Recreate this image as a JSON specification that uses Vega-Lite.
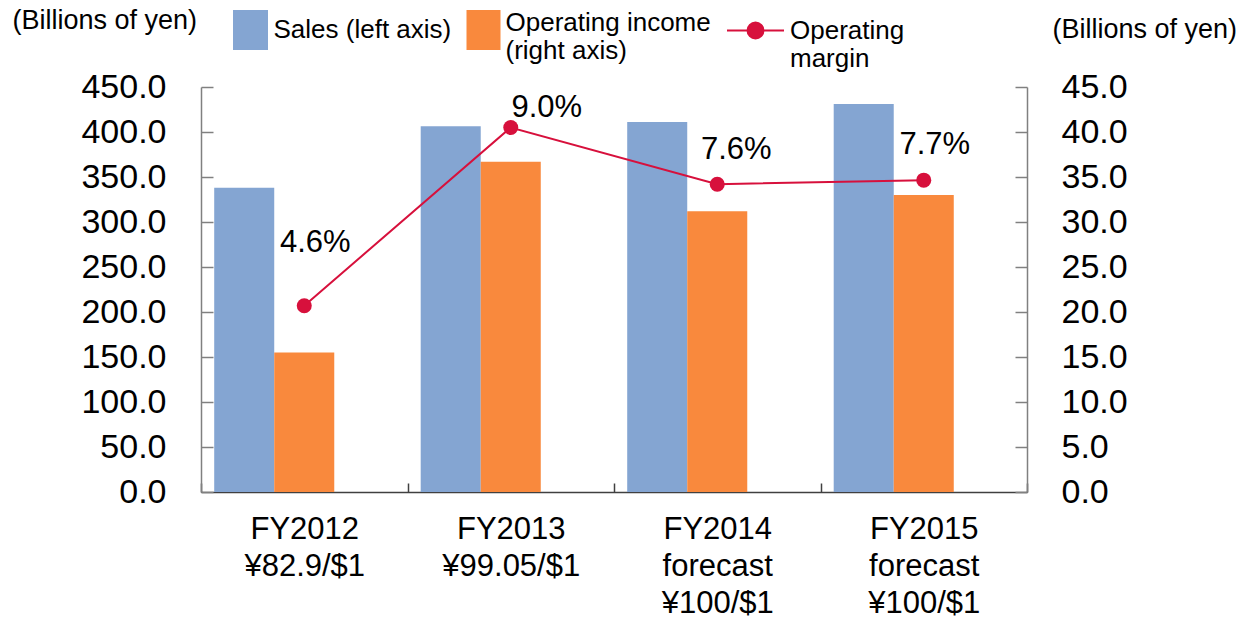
{
  "$schema": "https://vega.github.io/schema/vega-lite/v6.json",
  "width": 826,
  "height": 405,
  "autosize": {"type": "none"},
  "padding": {"left": 201, "top": 87, "right": 217, "bottom": 127},
  "config": {"font": "Liberation Sans", "view": {"stroke": null}, "axis": {"grid": false}},
  "datasets": {
    "bars": [
      {"category": "FY2012|¥82.9/$1", "series": "Sales (left axis)", "value": 338.0},
      {"category": "FY2013|¥99.05/$1", "series": "Sales (left axis)", "value": 406.5},
      {"category": "FY2014|forecast|¥100/$1", "series": "Sales (left axis)", "value": 411.0},
      {"category": "FY2015|forecast|¥100/$1", "series": "Sales (left axis)", "value": 431.0},
      {"category": "FY2012|¥82.9/$1", "series": "Operating income (right axis)", "value": 15.5},
      {"category": "FY2013|¥99.05/$1", "series": "Operating income (right axis)", "value": 36.7},
      {"category": "FY2014|forecast|¥100/$1", "series": "Operating income (right axis)", "value": 31.2},
      {"category": "FY2015|forecast|¥100/$1", "series": "Operating income (right axis)", "value": 33.0}
    ],
    "margins": [
      {"category": "FY2012|¥82.9/$1", "margin": 0.046},
      {"category": "FY2013|¥99.05/$1", "margin": 0.090},
      {"category": "FY2014|forecast|¥100/$1", "margin": 0.076},
      {"category": "FY2015|forecast|¥100/$1", "margin": 0.077}
    ]
  },
  "layer": [
    {
      "data": {"name": "bars"},
      "transform": [{"filter": "datum.series === 'Sales (left axis)'"}],
      "mark": {"type": "bar"},
      "encoding": {
        "x": {
          "field": "category", "type": "nominal",
          "scale": {"domain": ["FY2012|¥82.9/$1", "FY2013|¥99.05/$1", "FY2014|forecast|¥100/$1", "FY2015|forecast|¥100/$1"], "paddingInner": 0, "paddingOuter": 0},
          "axis": {
            "title": null, "labelAngle": 0,
            "labelExpr": "split(datum.label, '|')",
            "labelFontSize": 31, "labelLineHeight": 37, "labelColor": "black",
            "tickBand": "extent", "tickSize": -9, "tickWidth": 1.5, "tickColor": "#404040",
            "domainColor": "#404040", "domainWidth": 1.5, "labelPadding": 31
          }
        },
        "xOffset": {
          "field": "series",
          "scale": {"domain": ["Sales (left axis)", "Operating income (right axis)", "gap"], "paddingInner": 0, "paddingOuter": 0.22}
        },
        "y": {
          "field": "value", "type": "quantitative",
          "scale": {"domain": [0, 450], "nice": false},
          "axis": {
            "values": [0, 50, 100, 150, 200, 250, 300, 350, 400, 450],
            "format": ".1f", "labelFontSize": 34, "labelColor": "black",
            "domainColor": "#808080", "domainWidth": 1.5, "tickColor": "#808080", "tickWidth": 1.5,
            "tickSize": -12, "labelPadding": 47,
            "title": "(Billions of yen)", "titleAngle": 0, "titleX": -189, "titleY": -59,
            "titleAlign": "left", "titleBaseline": "alphabetic", "titleFontSize": 27,
            "titleFontWeight": "normal", "titleColor": "black"
          }
        },
        "fill": {
          "field": "series", "type": "nominal",
          "scale": {"domain": ["Sales (left axis)"], "range": ["#84A5D2"]},
          "legend": {
            "orient": "none", "legendX": 29.5, "legendY": -77,
            "title": null, "symbolType": "M-0.875,-1H0.875V1H-0.875Z", "symbolSize": 1600, "symbolStrokeWidth": 0,
            "labelFontSize": 26, "labelColor": "black", "labelOffset": 3,
            "padding": 0, "labelLimit": 400
          }
        }
      }
    },
    {
      "data": {"name": "bars"},
      "transform": [{"filter": "datum.series === 'Operating income (right axis)'"}],
      "mark": {"type": "bar"},
      "encoding": {
        "x": {"field": "category", "type": "nominal"},
        "xOffset": {"field": "series"},
        "y": {
          "field": "value", "type": "quantitative",
          "scale": {"domain": [0, 45], "nice": false},
          "axis": {
            "orient": "right",
            "values": [0, 5, 10, 15, 20, 25, 30, 35, 40, 45],
            "format": ".1f", "labelFontSize": 34, "labelColor": "black",
            "domainColor": "#808080", "domainWidth": 1.5, "tickColor": "#808080", "tickWidth": 1.5,
            "tickSize": -12, "labelPadding": 46,
            "title": "(Billions of yen)", "titleAngle": 0, "titleX": 25, "titleY": -50,
            "titleAlign": "left", "titleBaseline": "alphabetic", "titleFontSize": 27,
            "titleFontWeight": "normal", "titleColor": "black"
          }
        },
        "color": {
          "field": "series", "type": "nominal",
          "scale": {"domain": ["Operating income (right axis)"], "range": ["#F9893D"]},
          "legend": {
            "orient": "none", "legendX": 262.5, "legendY": -84,
            "title": null, "symbolType": "M-0.85,-0.65H0.85V1.35H-0.85Z", "symbolSize": 1600, "symbolStrokeWidth": 0,
            "labelFontSize": 26, "labelLineHeight": 30, "labelColor": "black", "labelOffset": 2,
            "padding": 0, "labelLimit": 400,
            "labelExpr": "['Operating income', '(right axis)']"
          }
        }
      }
    },
    {
      "data": {"name": "margins"},
      "encoding": {
        "x": {"field": "category", "type": "nominal"},
        "y": {"field": "margin", "type": "quantitative", "scale": {"domain": [0, 0.1], "nice": false}, "axis": null}
      },
      "layer": [
        {
          "mark": {"type": "line", "strokeWidth": 2},
          "encoding": {
            "stroke": {
              "datum": "Operating margin", "type": "nominal",
              "scale": {"range": ["#D7103C"]},
              "legend": {
                "orient": "none", "legendX": 525, "legendY": -86,
                "title": null,
                "symbolType": "M-1,0L1,0M-0.28,0A0.28,0.28,0,1,0,0.28,0A0.28,0.28,0,1,0,-0.28,0Z",
                "symbolSize": 3249, "symbolStrokeWidth": 2, "symbolFillColor": "#D7103C",
                "labelFontSize": 26, "labelLineHeight": 30, "labelColor": "black", "labelOffset": 5,
                "padding": 0, "labelLimit": 400,
                "labelExpr": "['Operating', 'margin']",
                "encode": {"symbols": {"update": {"fill": {"value": "#D7103C"}, "stroke": {"value": "#D7103C"}, "strokeWidth": {"value": 2}}}}
              }
            }
          }
        },
        {"mark": {"type": "point", "filled": true, "size": 225, "color": "#D7103C", "opacity": 1}},
        {
          "transform": [{"filter": "datum.category === 'FY2012|¥82.9/$1'"}],
          "mark": {"type": "text", "fontSize": 31, "color": "black", "baseline": "alphabetic", "align": "center", "dx": 11, "dy": -54},
          "encoding": {"text": {"field": "margin", "format": ".1%"}}
        },
        {
          "transform": [{"filter": "datum.category === 'FY2013|¥99.05/$1'"}],
          "mark": {"type": "text", "fontSize": 31, "color": "black", "baseline": "alphabetic", "align": "center", "dx": 36, "dy": -11},
          "encoding": {"text": {"field": "margin", "format": ".1%"}}
        },
        {
          "transform": [{"filter": "datum.category === 'FY2014|forecast|¥100/$1'"}],
          "mark": {"type": "text", "fontSize": 31, "color": "black", "baseline": "alphabetic", "align": "center", "dx": 19, "dy": -25},
          "encoding": {"text": {"field": "margin", "format": ".1%"}}
        },
        {
          "transform": [{"filter": "datum.category === 'FY2015|forecast|¥100/$1'"}],
          "mark": {"type": "text", "fontSize": 31, "color": "black", "baseline": "alphabetic", "align": "center", "dx": 11, "dy": -26},
          "encoding": {"text": {"field": "margin", "format": ".1%"}}
        }
      ]
    }
  ],
  "resolve": {"scale": {"y": "independent"}}
}
